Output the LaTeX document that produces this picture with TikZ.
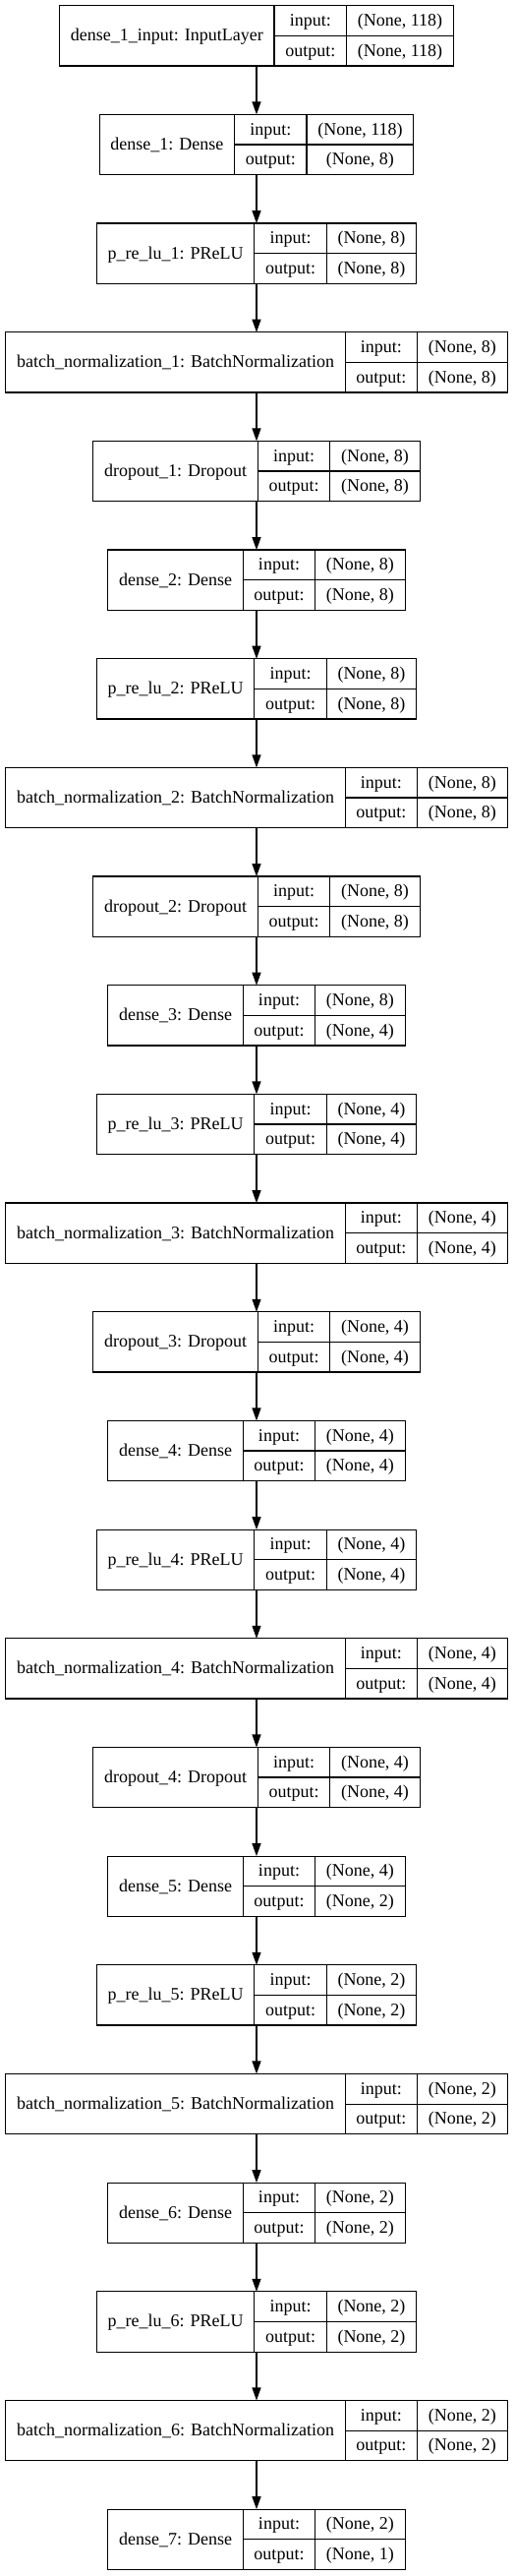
\documentclass[tikz,border=0pt]{standalone}
\usepackage{fontspec}
\setmainfont{Liberation Serif}
\usetikzlibrary{arrows.meta,fit}
\newcommand\lfont{\fontsize{18}{21}\selectfont}
\newlength\lwa\newlength\lwb\newlength\lwc\newlength\lwd
\tikzset{
  cell/.style={draw, line width=1.2pt, inner sep=0pt, outer sep=0pt, font=\lfont,
    text height=15pt, text depth=4pt, align=center},
  arr/.style={line width=1.2pt, -{Triangle[length=13pt,width=9pt]}},
}
% measure widths outside the picture and store them
\newcommand\measure[4]{%
  \settowidth\lwa{\lfont #2}\addtolength\lwa{22.5pt}%
  \settowidth\lwb{\lfont output:}\addtolength\lwb{22.5pt}%
  \settowidth\lwc{\lfont #3}\settowidth\lwd{\lfont #4}%
  \ifdim\lwd>\lwc \lwc=\lwd\fi\addtolength\lwc{22.5pt}%
  \expandafter\xdef\csname wa#1\endcsname{\the\lwa}%
  \expandafter\xdef\csname wb#1\endcsname{\the\lwb}%
  \expandafter\xdef\csname wc#1\endcsname{\the\lwc}%
  \expandafter\gdef\csname nm#1\endcsname{#2}%
  \expandafter\gdef\csname in#1\endcsname{#3}%
  \expandafter\gdef\csname ou#1\endcsname{#4}%
}
\newcommand\layer[1]{%
  \edef\wa{\csname wa#1\endcsname}%
  \edef\wb{\csname wb#1\endcsname}%
  \edef\wc{\csname wc#1\endcsname}%
  \pgfmathsetmacro\yc{-(36.35+(#1-1)*110.67)}%
  \pgfmathsetmacro\xl{261-(\wa+\wb+\wc)/2}%
  \node[cell, minimum width=\wa, minimum height=61.3pt, anchor=west] (l#1n) at (\xl,\yc) {\csname nm#1\endcsname};
  \node[cell, minimum width=\wb, minimum height=30.65pt, anchor=south west] (l#1i) at (l#1n.east) {input:};
  \node[cell, minimum width=\wb, minimum height=30.65pt, anchor=north west] (l#1o) at (l#1n.east) {output:};
  \node[cell, minimum width=\wc, minimum height=30.65pt, anchor=south west] (l#1a) at (l#1i.south east) {\csname in#1\endcsname};
  \node[cell, minimum width=\wc, minimum height=30.65pt, anchor=north west] (l#1b) at (l#1o.north east) {\csname ou#1\endcsname};
  \node[fit=(l#1n)(l#1i)(l#1o)(l#1a)(l#1b), inner sep=0pt, outer sep=0pt] (l#1) {};
}
\begin{document}
\measure{1}{dense\_1\_input: InputLayer}{(None, 118)}{(None, 118)}%
\measure{2}{dense\_1: Dense}{(None, 118)}{(None, 8)}%
\measure{3}{p\_re\_lu\_1: PReLU}{(None, 8)}{(None, 8)}%
\measure{4}{batch\_normalization\_1: BatchNormalization}{(None, 8)}{(None, 8)}%
\measure{5}{dropout\_1: Dropout}{(None, 8)}{(None, 8)}%
\measure{6}{dense\_2: Dense}{(None, 8)}{(None, 8)}%
\measure{7}{p\_re\_lu\_2: PReLU}{(None, 8)}{(None, 8)}%
\measure{8}{batch\_normalization\_2: BatchNormalization}{(None, 8)}{(None, 8)}%
\measure{9}{dropout\_2: Dropout}{(None, 8)}{(None, 8)}%
\measure{10}{dense\_3: Dense}{(None, 8)}{(None, 4)}%
\measure{11}{p\_re\_lu\_3: PReLU}{(None, 4)}{(None, 4)}%
\measure{12}{batch\_normalization\_3: BatchNormalization}{(None, 4)}{(None, 4)}%
\measure{13}{dropout\_3: Dropout}{(None, 4)}{(None, 4)}%
\measure{14}{dense\_4: Dense}{(None, 4)}{(None, 4)}%
\measure{15}{p\_re\_lu\_4: PReLU}{(None, 4)}{(None, 4)}%
\measure{16}{batch\_normalization\_4: BatchNormalization}{(None, 4)}{(None, 4)}%
\measure{17}{dropout\_4: Dropout}{(None, 4)}{(None, 4)}%
\measure{18}{dense\_5: Dense}{(None, 4)}{(None, 2)}%
\measure{19}{p\_re\_lu\_5: PReLU}{(None, 2)}{(None, 2)}%
\measure{20}{batch\_normalization\_5: BatchNormalization}{(None, 2)}{(None, 2)}%
\measure{21}{dense\_6: Dense}{(None, 2)}{(None, 2)}%
\measure{22}{p\_re\_lu\_6: PReLU}{(None, 2)}{(None, 2)}%
\measure{23}{batch\_normalization\_6: BatchNormalization}{(None, 2)}{(None, 2)}%
\measure{24}{dense\_7: Dense}{(None, 2)}{(None, 1)}%
\begin{tikzpicture}[x=1pt,y=1pt]
\useasboundingbox (0,0) rectangle (523,-2619);
\layer{1}\layer{2}\layer{3}\layer{4}\layer{5}\layer{6}
\layer{7}\layer{8}\layer{9}\layer{10}\layer{11}\layer{12}
\layer{13}\layer{14}\layer{15}\layer{16}\layer{17}\layer{18}
\layer{19}\layer{20}\layer{21}\layer{22}\layer{23}\layer{24}
\foreach \i in {1,...,23} {
  \pgfmathtruncatemacro\j{\i+1}
  \draw[arr] (l\i.south) -- (l\j.north);
}
\end{tikzpicture}
\end{document}
